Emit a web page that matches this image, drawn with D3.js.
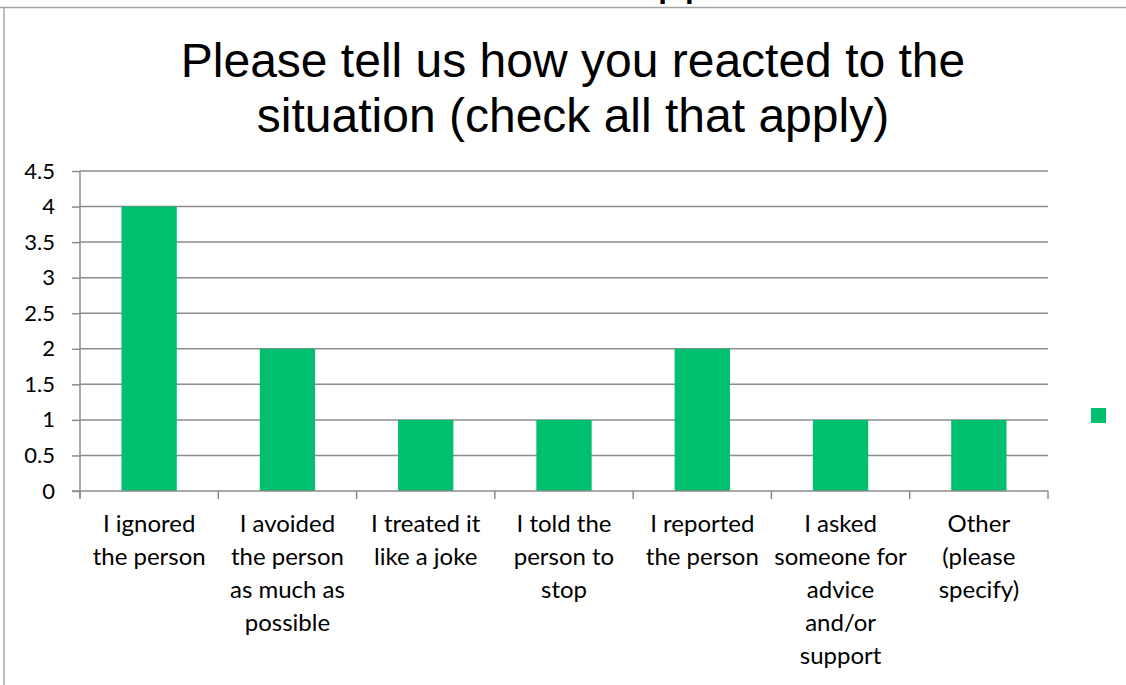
<!DOCTYPE html>
<html>
<head>
<meta charset="utf-8">
<script src="https://cdn.jsdelivr.net/npm/d3@7"></script>
<style>
  body { margin: 0; background: #fff; }
</style>
</head>
<body>
<div id="chart"></div>
<script>
// chart data
const categories = [
  ["I ignored", "the person"],
  ["I avoided", "the person", "as much as", "possible"],
  ["I treated it", "like a joke"],
  ["I told the", "person to", "stop"],
  ["I reported", "the person"],
  ["I asked", "someone for", "advice", "and/or", "support"],
  ["Other", "(please", "specify)"]
];
const counts = [4, 2, 1, 1, 2, 1, 1];
const yTicks = [0, 0.5, 1, 1.5, 2, 2.5, 3, 3.5, 4, 4.5];
const titleLines = ["Please tell us how you reacted to the", "situation (check all that apply)"];

const width = 1126, height = 685;
const green = "#00BF6F";
const gridColor = "#8c8c8c";

const svg = d3.select("#chart").append("svg")
  .attr("width", width)
  .attr("height", height);

// frame of the chart object (partly cut off)
svg.append("line").attr("x1", 0).attr("x2", width).attr("y1", 7.5).attr("y2", 7.5)
  .attr("stroke", "#a6a6a6").attr("stroke-width", 1.5);
svg.append("line").attr("x1", 4).attr("x2", 4).attr("y1", 7.5).attr("y2", height)
  .attr("stroke", "#a6a6a6").attr("stroke-width", 1.5);

// remnant of the previous title, cropped at the top
svg.append("text")
  .attr("x", 684).attr("y", -6)
  .attr("text-anchor", "middle")
  .attr("font-family", "Liberation Sans, Arial, sans-serif")
  .attr("font-size", 48)
  .text("pp");

// title
svg.append("g").selectAll("text")
  .data(titleLines)
  .enter().append("text")
  .attr("x", 573)
  .attr("y", (d, i) => 77 + i * 55)
  .attr("text-anchor", "middle")
  .attr("font-family", "Liberation Sans, Arial, sans-serif")
  .attr("font-size", 48)
  .attr("fill", "#000")
  .text(d => d);

const margin = { left: 80, right: 1048, top: 171, bottom: 491 };

const x = d3.scaleBand()
  .domain(d3.range(categories.length))
  .range([margin.left, margin.right])
  .paddingInner(0.6)
  .paddingOuter(0.3);

const y = d3.scaleLinear()
  .domain([0, 4.5])
  .range([margin.bottom, margin.top]);

// gridlines
svg.append("g").selectAll("line")
  .data(yTicks.slice(1))
  .enter().append("line")
  .attr("x1", margin.left).attr("x2", margin.right)
  .attr("y1", d => y(d)).attr("y2", d => y(d))
  .attr("stroke", gridColor).attr("stroke-width", 1.5);

// y axis
const yAxis = svg.append("g")
  .attr("transform", `translate(${margin.left},0)`)
  .call(d3.axisLeft(y).tickValues(yTicks).tickSize(8).tickPadding(17)
    .tickFormat(d => String(d)));
yAxis.select(".domain").attr("stroke", gridColor).attr("stroke-width", 1.5)
  .attr("d", `M0,${margin.bottom + 7}V${margin.top}`);
yAxis.selectAll(".tick line").attr("stroke", gridColor).attr("stroke-width", 1.5);
yAxis.selectAll(".tick text")
  .attr("font-family", "Lato, 'Open Sans', sans-serif")
  .attr("font-size", 22)
  .attr("fill", "#000");

// bars
svg.append("g").selectAll("rect")
  .data(counts)
  .enter().append("rect")
  .attr("x", (d, i) => x(i))
  .attr("width", x.bandwidth())
  .attr("y", d => y(d))
  .attr("height", d => y(0) - y(d))
  .attr("fill", green);

// x axis with tick marks at category boundaries
const step = (margin.right - margin.left) / categories.length;
svg.append("line")
  .attr("x1", margin.left - 8).attr("x2", margin.right)
  .attr("y1", y(0)).attr("y2", y(0))
  .attr("stroke", gridColor).attr("stroke-width", 1.5);
svg.append("g").selectAll("line")
  .data(d3.range(categories.length + 1))
  .enter().append("line")
  .attr("x1", i => margin.left + i * step).attr("x2", i => margin.left + i * step)
  .attr("y1", y(0)).attr("y2", y(0) + 8)
  .attr("stroke", gridColor).attr("stroke-width", 1.5);

// category labels
const labels = svg.append("g").selectAll("text")
  .data(categories)
  .enter().append("text")
  .attr("text-anchor", "middle")
  .attr("font-family", "Lato, 'Open Sans', sans-serif")
  .attr("font-size", 24)
  .attr("fill", "#000");
labels.each(function (lines, i) {
  const cx = x(i) + x.bandwidth() / 2;
  d3.select(this).selectAll("tspan")
    .data(lines)
    .enter().append("tspan")
    .attr("x", cx)
    .attr("y", (d, j) => 532 + j * 33)
    .text(d => d);
});

// legend marker (no label)
svg.append("rect")
  .attr("x", 1091).attr("y", 408)
  .attr("width", 15).attr("height", 15)
  .attr("fill", green);
</script>
</body>
</html>
